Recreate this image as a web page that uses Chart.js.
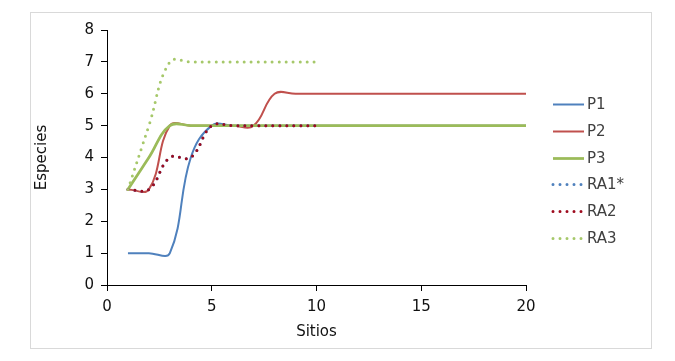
<!DOCTYPE html>
<html>
<head>
<meta charset="utf-8">
<script src="https://cdn.jsdelivr.net/npm/chart.js@4"></script>
<style>
  html, body { margin: 0; padding: 0; background: #fff; }
  #wrap { width: 675px; height: 361px; }
</style>
</head>
<body>
<div id="wrap"><canvas id="chart-especies" width="675" height="361"></canvas></div>
<script>
const sitios = [1, 2, 3, 4, 5, 6, 7, 8, 9, 10, 11, 12, 13, 14, 15, 16, 17, 18, 19, 20];
const p1 = [1, 1, 1, 4, 5, 5, 5, 5, 5, 5, 5, 5, 5, 5, 5, 5, 5, 5, 5, 5];
const p2 = [3, 3, 5, 5, 5, 5, 5, 6, 6, 6, 6, 6, 6, 6, 6, 6, 6, 6, 6, 6];
const p3 = [3, 4, 5, 5, 5, 5, 5, 5, 5, 5, 5, 5, 5, 5, 5, 5, 5, 5, 5, 5];
const ra1 = [3, 3, 4, 4, 5, 5, 5, 5, 5, 5];
const ra2 = [3, 3, 4, 4, 5, 5, 5, 5, 5, 5];
const ra3 = [3, 5, 7, 7, 7, 7, 7, 7, 7, 7];
const xTicks = [0, 5, 10, 15, 20];
const yTicks = [0, 1, 2, 3, 4, 5, 6, 7, 8];

const fuente = "'DejaVu Sans', Verdana, sans-serif";

function puntos(valores) {
    return valores.map((v, i) => ({ x: sitios[i], y: v }));
}

function serie(label, valores, color, ancho, punteado, orden) {
    return {
        label: label,
        data: puntos(valores),
        borderColor: color,
        backgroundColor: color,
        borderWidth: ancho,
        borderDash: punteado ? [0, 7] : [],
        borderCapStyle: punteado ? "round" : "butt",
        pointRadius: 0,
        tension: 0.4,
        fill: false,
        order: orden, // excel draws later series on top
    };
}

const datasets = [
    serie("P1", p1, "#4F81BD", 2, false, 5),
    serie("P2", p2, "#C0504D", 2, false, 4),
    serie("P3", p3, "#9BBB59", 2.75, false, 3),
    serie("RA1*", ra1, "#4F81BD", 3, true, 2),
    serie("RA2", ra2, "#9E0B1E", 3, true, 1),
    serie("RA3", ra3, "#A6C86A", 3, true, 0),
];

// borde gris del grafico + leyenda a la derecha
const marcoYLeyenda = {
    id: "marcoYLeyenda",
    beforeDraw(chart) {
        const ctx = chart.ctx;
        ctx.save();
        ctx.strokeStyle = "#d9d9d9";
        ctx.lineWidth = 1;
        ctx.strokeRect(30.5, 12.5, 621, 336);
        ctx.restore();
    },
    afterDraw(chart) {
        const ctx = chart.ctx;
        ctx.save();
        ctx.font = "15px " + fuente;
        ctx.textBaseline = "middle";
        chart.data.datasets.forEach((ds, i) => {
            const y = Math.round(104 + i * 26.8) + 0.5;
            ctx.beginPath();
            ctx.strokeStyle = ds.borderColor;
            ctx.lineWidth = ds.borderWidth;
            ctx.lineCap = ds.borderCapStyle;
            ctx.setLineDash(ds.borderDash);
            ctx.moveTo(553, y);
            ctx.lineTo(584, y);
            ctx.stroke();
            ctx.setLineDash([]);
            ctx.fillStyle = "#404040";
            ctx.fillText(ds.label, 587, y + 1);
        });
        ctx.restore();
    },
};

new Chart(document.getElementById("chart-especies"), {
    type: "line",
    data: { datasets: datasets },
    options: {
        responsive: false,
        animation: false,
        layout: { padding: { left: 30, right: 149, top: 30, bottom: 20 } },
        plugins: {
            legend: { display: false },
            tooltip: { enabled: false },
        },
        scales: {
            x: {
                type: "linear",
                min: 0,
                max: 20,
                afterBuildTicks: (s) => { s.ticks = xTicks.map((v) => ({ value: v })); },
                afterFit: (s) => { s.height = 56; },
                ticks: { color: "#111", font: { family: fuente, size: 15 }, padding: 7, maxRotation: 0 },
                grid: { drawOnChartArea: false, color: "#000", tickLength: 6 },
                border: { color: "#000", width: 1 },
                title: { display: true, text: "Sitios", color: "#111", font: { family: fuente, size: 15 }, padding: { top: 0, bottom: 0 } },
            },
            y: {
                min: 0,
                max: 8,
                afterBuildTicks: (s) => { s.ticks = yTicks.map((v) => ({ value: v })); },
                afterFit: (s) => { s.width = 77; },
                ticks: { color: "#111", font: { family: fuente, size: 15 }, padding: 7 },
                grid: { drawOnChartArea: false, color: "#000", tickLength: 6 },
                border: { color: "#000", width: 1 },
                title: { display: true, text: "Especies", color: "#111", font: { family: fuente, size: 15 }, padding: { top: 3, bottom: 0 } },
            },
        },
    },
    plugins: [marcoYLeyenda],
});
</script>
</body>
</html>
